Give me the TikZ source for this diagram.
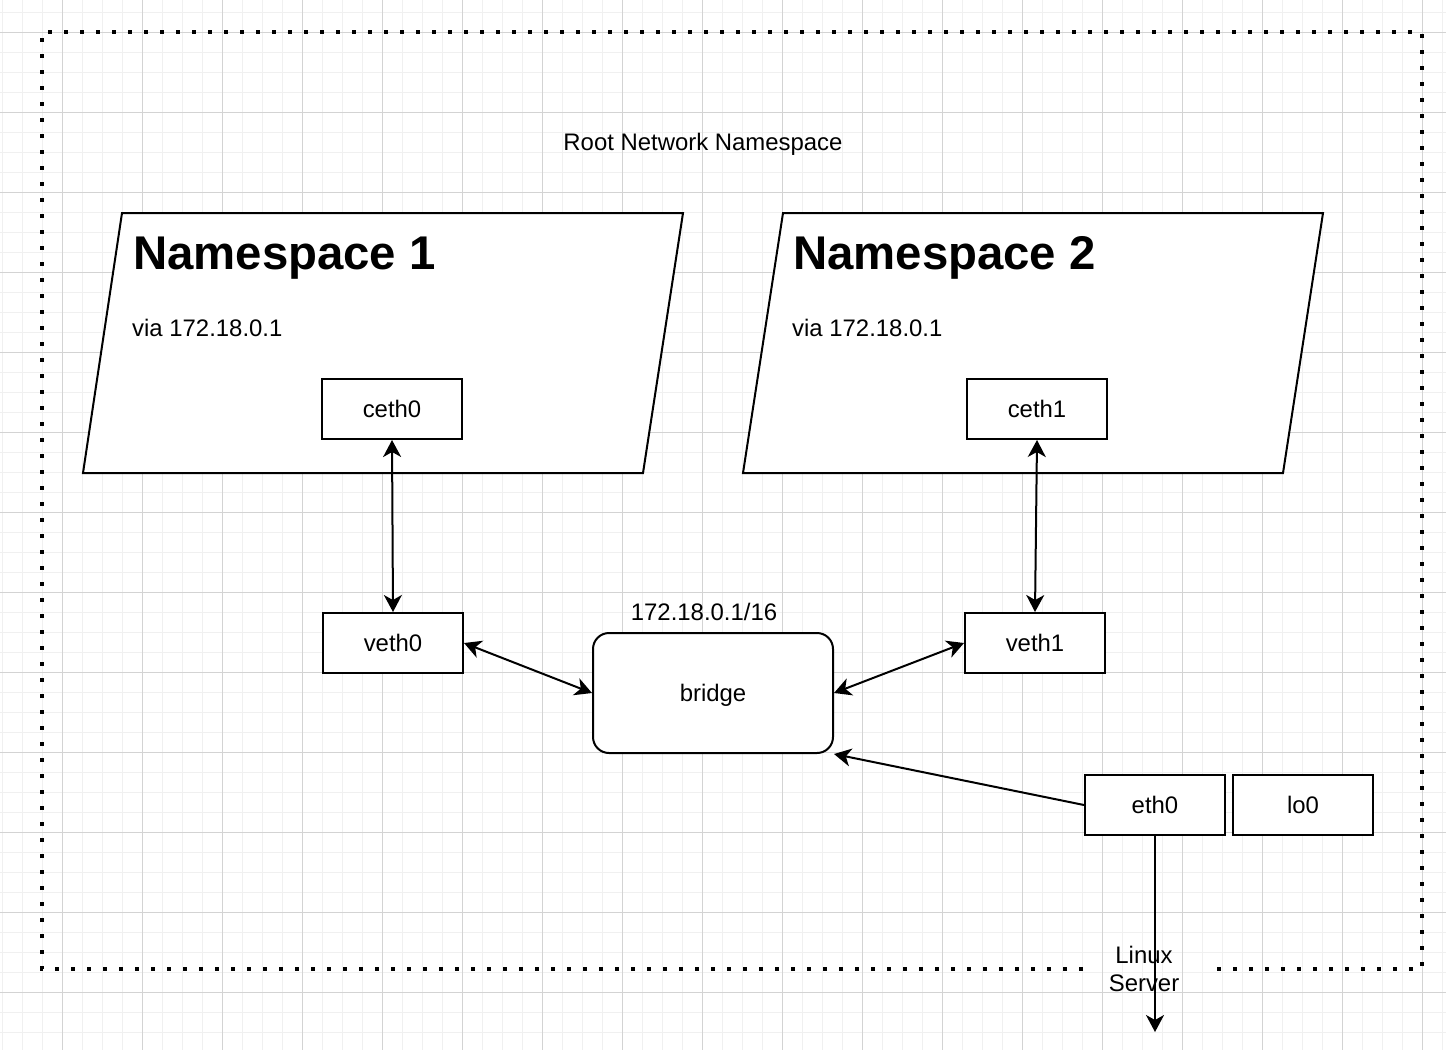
\documentclass[tikz,border=0pt]{standalone}
\usepackage{fontspec}
\setmainfont{Liberation Sans}
\usetikzlibrary{arrows.meta}
\definecolor{minorgrid}{HTML}{F0F0F0}
\definecolor{majorgrid}{HTML}{D3D3D3}
\begin{document}
\begin{tikzpicture}[x=1bp,y=-1bp,
  >={Stealth[length=17bp,width=18bp,inset=5bp]},
  minorline/.style={draw=minorgrid,line width=1.6bp},
  majorline/.style={draw=majorgrid,line width=1.4bp},
  txt/.style={font=\fontsize{24}{28}\selectfont,inner sep=0pt},
  title/.style={font=\fontsize{47.5}{56}\selectfont\bfseries,inner sep=0pt},
  box/.style={draw,line width=2bp,fill=white,minimum width=140bp,minimum height=60bp,inner sep=0pt,txt},
  nsshape/.style={draw,line width=2bp,fill=white,line join=miter},
  link/.style={line width=2bp},
  frame/.style={line width=4bp,dash pattern=on 4bp off 12bp}
]
\useasboundingbox (0,0) rectangle (1446,1050);
\fill[white] (0,0) rectangle (1446,1050);
% grid
\foreach \i in {0,...,72} \draw[minorline] ({2.3+20*\i},0) -- ({2.3+20*\i},1050);
\foreach \j in {0,...,51} \draw[minorline] (0,{12.3+20*\j}) -- (1446,{12.3+20*\j});
\foreach \i in {0,...,17} \draw[majorline] ({62.3+80*\i},0) -- ({62.3+80*\i},1050);
\foreach \j in {0,...,12} \draw[majorline] (0,{32.3+80*\j}) -- (1446,{32.3+80*\j});
% root namespace frame
\draw[frame] (1083,969) -- (42,969) -- (42,32) -- (1422,32) -- (1422,969) -- (1213,969);
\node[txt,anchor=base] (root) at (703,150) {Root Network Namespace};
% namespaces
\draw[nsshape] (122,213) -- (683,213) -- (643,473) -- (83,473) -- cycle;
\draw[nsshape] (783,213) -- (1323,213) -- (1283,473) -- (743,473) -- cycle;
\node[title,anchor=base west] (ns1) at (133,269) {Namespace 1};
\node[txt,anchor=base west] (via1) at (132,336) {via 172.18.0.1};
\node[title,anchor=base west] (ns2) at (793,269) {Namespace 2};
\node[txt,anchor=base west] (via2) at (792,336) {via 172.18.0.1};
% interfaces
\node[box] (ceth0) at (392,409) {ceth0};
\node[box] (ceth1) at (1037,409) {ceth1};
\node[box] (veth0) at (393,643) {veth0};
\node[box] (veth1) at (1035,643) {veth1};
\node[box] (eth0) at (1155,805) {eth0};
\node[box] (lo0) at (1303,805) {lo0};
\node[box,minimum width=240bp,minimum height=120bp,rounded corners=16bp] (bridge) at (713,693) {};
\node[txt,anchor=base] (bridgelbl) at (bridge.center) [yshift=-8bp] {bridge};
\node[txt,anchor=base] (cidr) at (704,620) {172.18.0.1/16};
% connectors
\coordinate (srv) at (1155,1032);
\draw[link,<->] (ceth0.south) -- (veth0.north);
\draw[link,<->] (ceth1.south) -- (veth1.north);
\draw[link,<->] (veth0.east) -- (bridge.west);
\draw[link,<->] (bridge.east) -- (veth1.west);
\draw[link,->] (eth0.west) -- (bridge.south east);
\draw[link,->] (eth0.south) -- (srv);
\node[txt,align=center] (linux) at (1144,969) {Linux\\Server};
\end{tikzpicture}
\end{document}
